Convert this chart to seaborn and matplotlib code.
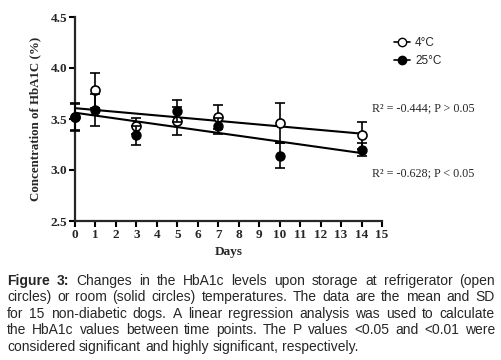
import matplotlib
matplotlib.use("Agg")
import matplotlib.pyplot as plt
import numpy as np
import pandas as pd
import seaborn as sns
from matplotlib.lines import Line2D


days = [0, 1, 3, 5, 7, 10, 14]

cold_mean = [3.52, 3.78, 3.43, 3.48, 3.52, 3.46, 3.34]
cold_sd = [0.14, 0.17, 0.08, 0.14, 0.12, 0.20, 0.13]

room_mean = [3.52, 3.59, 3.34, 3.58, 3.43, 3.14, 3.20]
room_sd = [0.13, 0.16, 0.09, 0.11, 0.08, 0.12, 0.06]

series_labels = ["4°C", "25°C"]
fit_notes = ["R² = -0.444; P > 0.05", "R² = -0.628; P < 0.05"]

caption_lines = [
    [("Figure 3:", True), ("Changes in the HbA1c levels upon storage at refrigerator (open", False)],
    [("circles) or room (solid circles) temperatures. The data are the mean and SD", False)],
    [("for 15 non-diabetic dogs. A linear regression analysis was used to calculate", False)],
    [("the HbA1c values between time points. The P values <0.05 and <0.01 were", False)],
    [("considered significant and highly significant, respectively.", False)],
]

SERIF = "Liberation Serif"
SANS = "Liberation Sans"


def draw_caption(fig, lines, x0, x1, y_start, step, size):
    """
    Write a justified caption, word by word (last line left aligned).
    """
    renderer = fig.canvas.get_renderer()
    W, H = fig.bbox.width, fig.bbox.height
    space = fig.text(0, 0, " ", fontsize=size, family=SANS)
    space_w = space.get_window_extent(renderer).width
    space.remove()
    for i, parts in enumerate(lines):
        words = []
        for chunk, bold in parts:
            for w in chunk.split(" "):
                words.append((w, bold))
        y = 1 - (y_start + i * step) / H
        texts = []
        for w, bold in words:
            t = fig.text(0, y, w, fontsize=size, family=SANS,
                         fontweight="bold" if bold else "normal", va="center")
            texts.append(t)
        widths = [t.get_window_extent(renderer).width for t in texts]
        if i < len(lines) - 1:
            gap = (x1 - x0 - sum(widths)) / (len(words) - 1)
        else:
            gap = space_w
        x = x0
        for t, w in zip(texts, widths):
            t.set_x(x / W)
            x += w + gap


def main():
    sns.set_style("ticks")
    plt.rcParams["font.family"] = [SERIF, "DejaVu Serif"]

    df = pd.DataFrame({
        "day": days * 2,
        "hba1c": cold_mean + room_mean,
        "group": [series_labels[0]] * len(days) + [series_labels[1]] * len(days),
    })

    fig = plt.figure(figsize=(5.02, 3.6), dpi=100)
    ax = fig.add_axes([75 / 502, 1 - 221 / 360, (382 - 75) / 502, (221 - 17) / 360])

    # regression lines
    for label in series_labels:
        sub = df[df["group"] == label]
        sns.regplot(data=sub, x="day", y="hba1c", scatter=False, ci=None,
                    truncate=True, color="black", line_kws={"lw": 1.5}, ax=ax)

    # means with SD
    ax.errorbar(days, cold_mean, yerr=cold_sd, fmt="o", color="black",
                mfc="white", mec="black", mew=1.2, ms=6.5, elinewidth=1.2,
                capsize=3.5, capthick=1.2, zorder=3)
    ax.errorbar(days, room_mean, yerr=room_sd, fmt="o", color="black",
                mfc="black", mec="black", ms=6.5, elinewidth=1.2,
                capsize=3.5, capthick=1.2, zorder=4)

    ax.set_xlim(0, 15)
    ax.set_ylim(2.5, 4.5)
    ax.set_xticks(range(0, 16))
    ax.set_yticks([2.5, 3.0, 3.5, 4.0, 4.5])
    ax.set_yticklabels(["2.5", "3.0", "3.5", "4.0", "4.5"])
    for lab in ax.get_xticklabels() + ax.get_yticklabels():
        lab.set_fontweight("bold")
        lab.set_fontsize(9.5)
    ax.tick_params(direction="out", length=4, width=1.5, color="black", pad=1.5)
    ax.spines["left"].set_linewidth(1.6)
    ax.spines["bottom"].set_linewidth(1.6)
    sns.despine(ax=ax)
    for art in ax.lines + ax.collections:
        art.set_clip_on(False)

    ax.set_xlabel("Days", fontsize=9.5, fontweight="bold", labelpad=4)
    ax.set_ylabel("Concentration of HbA1C (%)", fontsize=9.3, fontweight="bold", labelpad=7)

    # legend
    handles = [
        Line2D([], [], color="black", marker="o", mfc="white", mec="black", ms=6, lw=1.2),
        Line2D([], [], color="black", marker="o", mfc="black", mec="black", ms=6, lw=1.2),
    ]
    fig.legend(handles, series_labels, loc="upper left",
               bbox_to_anchor=(388 / 502, 1 - 31 / 360), frameon=False,
               prop={"family": SANS, "size": 8.5}, handlelength=1.4,
               handletextpad=0.4, labelspacing=0.55, borderpad=0)

    # fit notes
    fig.text(372 / 502, 1 - 108 / 360, fit_notes[0], fontsize=8.7, va="center")
    fig.text(372 / 502, 1 - 173 / 360, fit_notes[1], fontsize=8.7, va="center")

    draw_caption(fig, caption_lines, 7, 495, 281, 16.4, 10)

    fig.savefig("out.png", dpi=100)
    plt.close(fig)


if __name__ == "__main__":
    main()
